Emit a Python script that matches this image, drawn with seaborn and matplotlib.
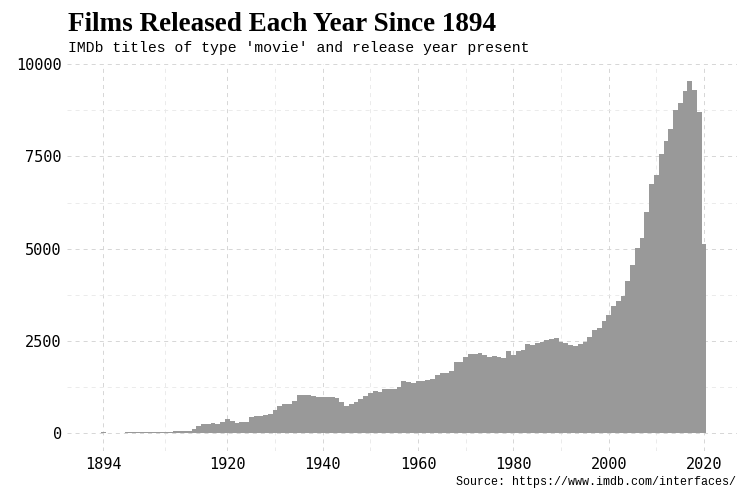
import matplotlib
matplotlib.use("Agg")
import matplotlib.pyplot as plt
import seaborn as sns
import pandas as pd

# Films per release year
years = list(range(1894, 2021))
films = [
    15, 0, 0, 8, 10, 12, 14, 12, 14, 16,              # 1894-1903
    16, 18, 20, 22, 26, 50, 54, 56, 60, 118,          # 1904-1913
    181, 236, 254, 256, 250, 290, 390, 317, 281, 283,  # 1914-1923
    285, 430, 453, 455, 480, 525, 616, 740, 779, 782,  # 1924-1933
    870, 1033, 1035, 1030, 1015, 985, 962, 965, 962, 958,  # 1934-1943
    835, 743, 795, 850, 910, 990, 1080, 1150, 1117, 1180,  # 1944-1953
    1182, 1202, 1245, 1405, 1377, 1358, 1395, 1422, 1449, 1467,  # 1954-1963
    1567, 1612, 1639, 1684, 1911, 1920, 2065, 2137, 2146, 2174,  # 1964-1973
    2119, 2056, 2083, 2073, 2046, 2209, 2111, 2209, 2247, 2410,  # 1974-1983
    2383, 2437, 2473, 2519, 2546, 2573, 2470, 2440, 2390, 2360,  # 1984-1993
    2400, 2460, 2590, 2790, 2850, 3045, 3190, 3430, 3590, 3715,  # 1994-2003
    4110, 4560, 5030, 5275, 5995, 6740, 6985, 7555, 7925, 8250,  # 2004-2013
    8770, 8960, 9265, 9545, 9290, 8695, 5115,          # 2014-2020
]

x_major = [1894, 1920, 1940, 1960, 1980, 2000, 2020]
x_minor = [1907, 1930, 1950, 1970, 1990, 2010]
y_major = [0, 2500, 5000, 7500, 10000]
y_minor = [1250, 3750, 6250, 8750]

df = pd.DataFrame({"year": years, "films": films})

sns.set_style("white")
plt.rcParams["lines.scale_dashes"] = False
plt.rcParams["text.color"] = "black"

fig, ax = plt.subplots(figsize=(7.5, 5), dpi=100)
fig.subplots_adjust(left=0.089, right=0.982, top=0.873, bottom=0.099)

sns.histplot(data=df, x="year", weights="films", discrete=True,
             element="step", fill=True, color="#999999", alpha=1,
             linewidth=0, ax=ax, zorder=2)

ax.set_xlim(1886.3, 2026.8)
ax.set_ylim(-477, 10022)
ax.set_xticks(x_major)
ax.set_xticks(x_minor, minor=True)
ax.set_yticks(y_major)
ax.set_yticks(y_minor, minor=True)
ax.grid(which="major", color="#d6d6d6", linestyle=(0, (2.9, 2.9)), linewidth=0.7, zorder=0)
ax.grid(which="minor", color="#e8e8e8", linestyle=(0, (2.9, 2.9)), linewidth=0.6, zorder=0)
ax.set_axisbelow(True)
for s in ax.spines.values():
    s.set_visible(False)
ax.tick_params(which="both", length=0)
ax.tick_params(axis="x", pad=5)
ax.tick_params(axis="y", pad=3.6)
for lab in ax.get_xticklabels() + ax.get_yticklabels():
    lab.set_fontfamily("DejaVu Sans Mono")
    lab.set_fontsize(11)
    lab.set_color("black")
ax.set_xlabel("")
ax.set_ylabel("")

fig.text(68 / 750, 1 - 31 / 500, "Films Released Each Year Since 1894",
         family="Liberation Serif", weight="bold", fontsize=19.5,
         color="black", va="baseline")
fig.text(68 / 750, 1 - 52 / 500, "IMDb titles of type 'movie' and release year present",
         family="Liberation Mono", fontsize=10.6, color="black", va="baseline")
fig.text(736 / 750, 1 - 485 / 500, "Source: https://www.imdb.com/interfaces/",
         family="Liberation Mono", fontsize=8.4, color="black",
         ha="right", va="baseline")

fig.savefig("out.png", dpi=100)
